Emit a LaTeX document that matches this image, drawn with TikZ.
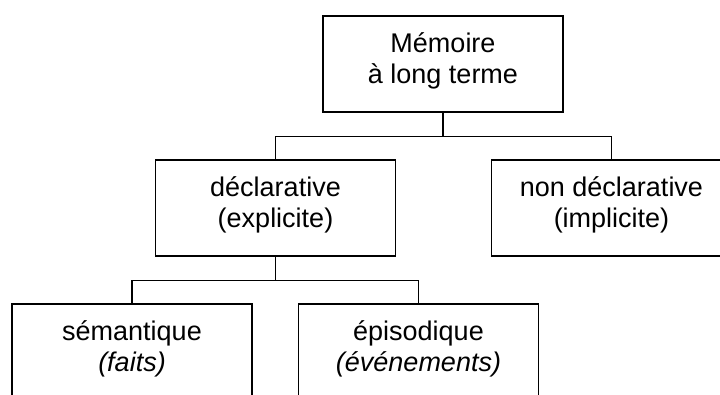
\documentclass[tikz,border=0pt]{standalone}
\usepackage{fontspec}
\setmainfont{Liberation Sans}
\usetikzlibrary{calc}
\begin{document}
\begin{tikzpicture}[x=1pt,y=-1pt,
  box/.style={draw=black, line width=1.4pt, minimum width=240pt, minimum height=96pt, inner sep=0pt},
  lbl/.style={align=center, font=\fontsize{27}{31}\selectfont, inner sep=0pt, text=black},
  conn/.style={draw=black, line width=1.4pt}]
\useasboundingbox (0,0) rectangle (720,394);
\fill[white] (0,0) rectangle (720,394);
\clip (0,0) rectangle (720,394);
% boxes
\node[box] (top) at (443,64) {};
\node[box] (decl) at (275.5,208) {};
\node[box] (nondecl) at (611.5,208) {};
\node[box] (sem) at (132,352) {};
\node[box] (epi) at (418.5,352) {};
% texts
\node[lbl] (topT) at ($(top.center)+(0,-3.5)$) {Mémoire\\à long terme};
\node[lbl] (declT) at ($(decl.center)+(0,-3.5)$) {déclarative\\(explicite)};
\node[lbl] (nondeclT) at ($(nondecl.center)+(0,-3.5)$) {non déclarative\\(implicite)};
\node[lbl] (semT) at ($(sem.center)+(0,-3.5)$) {sémantique\\\textit{(faits)}};
\node[lbl] (epiT) at ($(epi.center)+(0,-3.5)$) {épisodique\\\textit{(événements)}};
% connectors
\coordinate (j1) at ($(top.south)+(0,24)$);
\coordinate (j2) at ($(decl.south)+(0,24)$);
\draw[conn] (top.south) -- (j1);
\draw[conn] (decl.north) |- (j1) -| (nondecl.north);
\draw[conn] (decl.south) -- (j2);
\draw[conn] (sem.north) |- (j2) -| (epi.north);
\end{tikzpicture}
\end{document}
